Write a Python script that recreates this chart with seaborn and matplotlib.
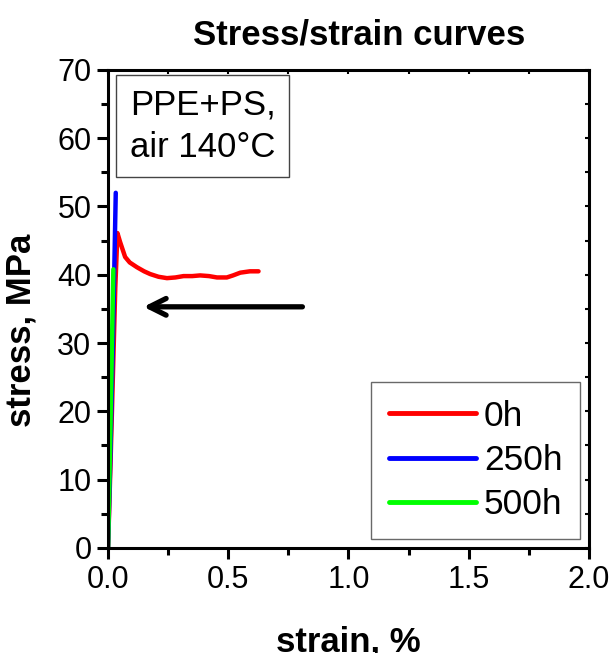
import numpy as np
import pandas as pd
from matplotlib import pyplot as plt
from matplotlib.ticker import MultipleLocator, NullFormatter
import seaborn as sns

# curves (strain in %, stress in MPa)
strain_0h = [0, 0.01, 0.02, 0.03, 0.039, 0.05, 0.071, 0.09, 0.12, 0.15, 0.175, 0.21,
             0.245, 0.28, 0.314, 0.35, 0.383, 0.42, 0.453, 0.494, 0.52, 0.55, 0.59, 0.626]
stress_0h = [0, 12, 25, 38, 46.1, 44.8, 42.6, 41.8, 41.1, 40.5, 40.1, 39.7,
             39.5, 39.6, 39.8, 39.8, 39.9, 39.8, 39.6, 39.6, 39.9, 40.3, 40.5, 40.5]
strain_250h = [0, 0.01, 0.02, 0.032]
stress_250h = [0, 14, 30, 52.0]
strain_500h = [0, 0.01, 0.022]
stress_500h = [0, 18, 40.8]

labels = ["0h", "250h", "500h"]
colors = ["#ff0000", "#0000ff", "#00ff00"]

df = pd.concat([
    pd.DataFrame({"strain": strain_0h, "stress": stress_0h, "time": "0h"}),
    pd.DataFrame({"strain": strain_250h, "stress": stress_250h, "time": "250h"}),
    pd.DataFrame({"strain": strain_500h, "stress": stress_500h, "time": "500h"}),
], ignore_index=True)

sns.set_style("ticks")
plt.rcParams['font.family'] = ['Liberation Sans', 'DejaVu Sans']
for k in ["text.color", "axes.labelcolor", "xtick.color", "ytick.color"]:
    plt.rcParams[k] = "black"

fig = plt.figure(figsize=(6.14, 6.53), dpi=100)
ax = fig.add_axes([0.176, 0.161, 0.783, 0.732])

sns.lineplot(data=df, x="strain", y="stress", hue="time", hue_order=labels,
             palette=dict(zip(labels, colors)), estimator=None, sort=False,
             linewidth=3.2, ax=ax)

ax.set_xlim(0, 2.0)
ax.set_ylim(0, 70)
ax.xaxis.set_major_locator(MultipleLocator(0.5))
ax.xaxis.set_minor_locator(MultipleLocator(0.25))
ax.yaxis.set_major_locator(MultipleLocator(10))
ax.yaxis.set_minor_locator(MultipleLocator(5))

for s in ax.spines.values():
    s.set_linewidth(2.2)
    s.set_color("black")
ax.tick_params(which="major", direction="out", length=8, width=2.2, labelsize=22, pad=4)
ax.tick_params(which="minor", direction="out", length=5, width=2.2)

# small inward ticks on top and right spines
top = ax.secondary_xaxis("top")
top.xaxis.set_major_locator(MultipleLocator(0.25))
top.xaxis.set_major_formatter(NullFormatter())
top.tick_params(direction="in", length=3, width=1.5)
right = ax.secondary_yaxis("right")
right.yaxis.set_major_locator(MultipleLocator(5))
right.yaxis.set_major_formatter(NullFormatter())
right.tick_params(direction="in", length=3, width=1.5)

ax.set_title("Stress/strain curves", fontsize=25, fontweight="bold", pad=18, x=0.522)
ax.set_xlabel("strain, %", fontsize=25, fontweight="bold", labelpad=22)
ax.set_ylabel("stress, MPa", fontsize=25, fontweight="bold")
ax.yaxis.set_label_coords(-0.147, 0.456)

ax.annotate("", xy=(0.136, 35.3), xytext=(0.82, 35.3),
            arrowprops=dict(arrowstyle="->", color="black", lw=3.8, mutation_scale=30))

ax.text(0.045, 0.96, "PPE+PS,\nair 140°C", transform=ax.transAxes, fontsize=25,
        va="top", ha="left", linespacing=1.33,
        bbox=dict(boxstyle="square,pad=0.4", fc="white", ec="#444444", lw=1))

leg = ax.legend(loc="lower right", fontsize=25.5, handlelength=2.45, frameon=True,
                fancybox=False, edgecolor="#444444", borderpad=0.5, labelspacing=0.32,
                handletextpad=0.22, borderaxespad=0.25)
leg.get_frame().set_linewidth(1)
for line in leg.get_lines():
    line.set_linewidth(3.5)

fig.savefig("out.png", dpi=100)
